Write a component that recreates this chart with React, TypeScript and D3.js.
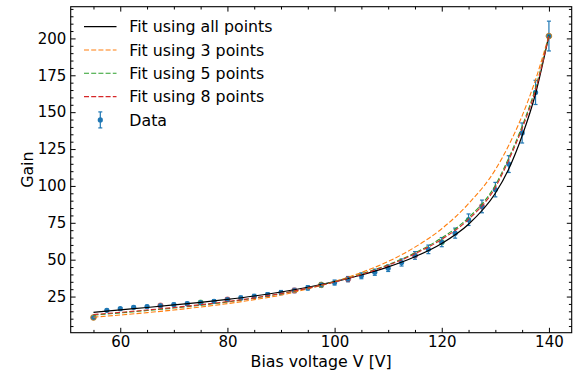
import React, { useEffect, useRef } from "react";
import * as d3 from "d3";

// measured points
const voltages = [
  55, 57.5, 60, 62.5, 65, 67.5, 70, 72.5, 75, 77.5, 80, 82.5, 85, 87.5, 90, 92.5,
  95, 97.5, 100, 102.5, 105, 107.5, 110, 112.5, 115, 117.5, 120, 122.5, 125,
  127.5, 130, 132.5, 135, 137.5, 140,
];
const gains = [
  10.8, 15.7, 16.8, 17.7, 18.2, 18.9, 19.6, 20.2, 20.9, 21.8, 23.0, 24.1, 25.2,
  26.4, 27.7, 29.1, 30.9, 32.9, 34.5, 36.8, 39.1, 41.5, 44.2, 48.1, 52.9, 57.0,
  61.9, 68.0, 77.1, 86.1, 97.5, 114.8, 135.9, 163.4, 201.6,
];
const gainErrors = [
  0.5, 0.8, 0.8, 0.9, 0.9, 0.9, 1.0, 1.0, 1.0, 1.1, 1.2, 1.2, 1.3, 1.3, 1.4,
  1.5, 1.5, 1.6, 1.7, 1.8, 2.0, 2.1, 2.2, 2.4, 2.6, 2.9, 3.1, 3.4, 3.9, 4.3, 4.9,
  5.7, 6.8, 8.2, 10.1,
];

// indices of the points used by each partial fit
const idx3 = [0, 17, 34];
const idx5 = [0, 8, 17, 26, 34];
const idx8 = [0, 5, 10, 15, 19, 24, 29, 34];

// fit curves sampled along V
const fitV = [
  55, 60, 65, 70, 75, 80, 85, 90, 95, 100, 105, 110, 115, 120, 125, 130, 132.5,
  135, 137.5, 140,
];
const fitAll = [
  14.3, 16.0, 17.6, 19.3, 21.1, 23.1, 25.4, 28.1, 31.3, 35.1, 39.6, 45.1, 52.0,
  61.0, 74.0, 95.0, 111.5, 134.0, 162.5, 202.0,
];
const fit3 = [
  11.0, 12.5, 14.1, 15.9, 17.9, 20.2, 22.9, 26.0, 30.2, 35.2, 41.3, 48.8, 58.5,
  71.0, 88.0, 111.0, 127.5, 147.5, 172.0, 202.0,
];
const fit5 = [
  12.4, 13.9, 15.5, 17.2, 19.1, 21.3, 23.9, 27.0, 30.7, 35.0, 40.3, 46.6, 54.6,
  64.8, 78.5, 100.5, 119.0, 140.5, 166.5, 202.0,
];
const fit8 = [
  12.8, 14.3, 15.9, 17.6, 19.5, 21.6, 24.1, 27.1, 30.7, 34.9, 40.0, 46.2, 54.0,
  63.8, 77.3, 99.0, 117.5, 139.0, 165.0, 202.0,
];

const fits = [
  { label: "Fit using all points", values: fitAll, color: "#000000", dash: null as string | null },
  { label: "Fit using 3 points", values: fit3, color: "#ff7f0e", dash: "5,2.2" },
  { label: "Fit using 5 points", values: fit5, color: "#2ca02c", dash: "5,2.2" },
  { label: "Fit using 8 points", values: fit8, color: "#d62728", dash: "5,2.2" },
];

const width = 585;
const height = 371;
const margin = { top: 6.7, right: 13.3, bottom: 38.3, left: 70.7 };
const font = "DejaVu Sans, sans-serif";
const tickFont = "15px";
const labelFont = "15.8px";

export default function App() {
  const svgRef = useRef<SVGSVGElement>(null);

  useEffect(() => {
    if (!svgRef.current) return;
    const svg = d3.select(svgRef.current);
    svg.selectAll("*").remove();

    const innerWidth = width - margin.left - margin.right;
    const innerHeight = height - margin.top - margin.bottom;

    const x = d3.scaleLinear().domain([50.75, 144.25]).range([0, innerWidth]);
    const y = d3.scaleLinear().domain([0.5, 221.5]).range([innerHeight, 0]);

    const g = svg
      .append("g")
      .attr("transform", `translate(${margin.left},${margin.top})`);

    // data with error bars
    const data = voltages.map((v, i) => ({ v, g: gains[i], e: gainErrors[i] }));
    const eb = g.append("g").attr("stroke", "#1f77b4").attr("stroke-width", 1.2);
    data.forEach((d) => {
      const cx = x(d.v);
      eb.append("line")
        .attr("x1", cx).attr("x2", cx)
        .attr("y1", y(d.g - d.e)).attr("y2", y(d.g + d.e));
      [d.g - d.e, d.g + d.e].forEach((yy) => {
        eb.append("line")
          .attr("x1", cx - 2).attr("x2", cx + 2)
          .attr("y1", y(yy)).attr("y2", y(yy));
      });
    });
    g.append("g")
      .selectAll("circle")
      .data(data)
      .enter()
      .append("circle")
      .attr("cx", (d) => x(d.v))
      .attr("cy", (d) => y(d.g))
      .attr("r", 2.6)
      .attr("fill", "#1f77b4");

    // highlight points used by partial fits
    const rings = [
      { idx: idx8, color: "#d62728" },
      { idx: idx5, color: "#2ca02c" },
      { idx: idx3, color: "#ff7f0e" },
    ];
    rings.forEach((r) => {
      g.append("g")
        .selectAll("circle")
        .data(r.idx)
        .enter()
        .append("circle")
        .attr("cx", (i) => x(voltages[i]))
        .attr("cy", (i) => y(gains[i]))
        .attr("r", 2.8)
        .attr("fill", "none")
        .attr("stroke", r.color)
        .attr("stroke-opacity", 0.45)
        .attr("stroke-width", 1);
    });

    // fit curves
    const line = d3
      .line<number>()
      .x((_, i) => x(fitV[i]))
      .y((d) => y(d))
      .curve(d3.curveMonotoneX);
    fits.forEach((f) => {
      g.append("path")
        .attr("d", line(f.values))
        .attr("fill", "none")
        .attr("stroke", f.color)
        .attr("stroke-width", f.dash ? 1.1 : 1.2)
        .attr("stroke-dasharray", f.dash);
    });

    // axes: ticks point inward on all four sides
    const xMajor = [60, 80, 100, 120, 140];
    const xMinor = d3.range(55, 145, 5).filter((v) => !xMajor.includes(v));
    const yMajor = [25, 50, 75, 100, 125, 150, 175, 200];
    const yMinor = d3.range(5, 221, 5).filter((v) => !yMajor.includes(v));

    const styleAxis = (sel: any) => {
      sel.select(".domain").remove();
      sel.selectAll("line").attr("stroke", "#000").attr("stroke-width", 1);
      sel.selectAll("text")
        .attr("fill", "#000")
        .style("font-family", font)
        .style("font-size", tickFont);
    };

    g.append("g")
      .attr("transform", `translate(0,${innerHeight})`)
      .call(d3.axisBottom(x).tickValues(xMajor).tickSize(-4.9).tickPadding(4))
      .call(styleAxis);
    g.append("g")
      .attr("transform", `translate(0,${innerHeight})`)
      .call(d3.axisBottom(x).tickValues(xMinor).tickSize(-2.8).tickFormat(() => ""))
      .call(styleAxis);
    g.append("g")
      .call(d3.axisTop(x).tickValues(xMajor).tickSize(-4.9).tickFormat(() => ""))
      .call(styleAxis);
    g.append("g")
      .call(d3.axisTop(x).tickValues(xMinor).tickSize(-2.8).tickFormat(() => ""))
      .call(styleAxis);

    g.append("g")
      .call(d3.axisLeft(y).tickValues(yMajor).tickSize(-4.9).tickPadding(4.4))
      .call(styleAxis);
    g.append("g")
      .call(d3.axisLeft(y).tickValues(yMinor).tickSize(-2.8).tickFormat(() => ""))
      .call(styleAxis);
    g.append("g")
      .attr("transform", `translate(${innerWidth},0)`)
      .call(d3.axisRight(y).tickValues(yMajor).tickSize(-4.9).tickFormat(() => ""))
      .call(styleAxis);
    g.append("g")
      .attr("transform", `translate(${innerWidth},0)`)
      .call(d3.axisRight(y).tickValues(yMinor).tickSize(-2.8).tickFormat(() => ""))
      .call(styleAxis);

    g.append("rect")
      .attr("width", innerWidth)
      .attr("height", innerHeight)
      .attr("fill", "none")
      .attr("stroke", "#000")
      .attr("stroke-width", 1.1);

    // axis labels
    svg.append("text")
      .attr("x", margin.left + innerWidth / 2)
      .attr("y", 366.5)
      .attr("text-anchor", "middle")
      .style("font-family", font)
      .style("font-size", labelFont)
      .text("Bias voltage V [V]");
    svg.append("text")
      .attr("transform", `translate(33,${margin.top + innerHeight / 2}) rotate(-90)`)
      .attr("text-anchor", "middle")
      .style("font-family", font)
      .style("font-size", labelFont)
      .text("Gain");

    // legend
    const legend = svg.append("g");
    const rowY = (i: number) => 26.7 + i * 23.3;
    fits.forEach((f, i) => {
      legend.append("line")
        .attr("x1", 84).attr("x2", 116.5)
        .attr("y1", rowY(i)).attr("y2", rowY(i))
        .attr("stroke", f.color)
        .attr("stroke-width", f.dash ? 1.1 : 1.2)
        .attr("stroke-dasharray", f.dash);
      legend.append("text")
        .attr("x", 129.3)
        .attr("y", rowY(i))
        .attr("dy", "0.36em")
        .style("font-family", font)
        .style("font-size", labelFont)
        .text(f.label);
    });
    const dy = rowY(4);
    const lg = legend.append("g").attr("stroke", "#1f77b4").attr("stroke-width", 1.2);
    lg.append("line").attr("x1", 100.3).attr("x2", 100.3).attr("y1", dy - 8).attr("y2", dy + 8);
    lg.append("line").attr("x1", 98.3).attr("x2", 102.3).attr("y1", dy - 8).attr("y2", dy - 8);
    lg.append("line").attr("x1", 98.3).attr("x2", 102.3).attr("y1", dy + 8).attr("y2", dy + 8);
    legend.append("circle").attr("cx", 100.3).attr("cy", dy).attr("r", 2.6).attr("fill", "#1f77b4");
    legend.append("text")
      .attr("x", 129.3)
      .attr("y", dy)
      .attr("dy", "0.36em")
      .style("font-family", font)
      .style("font-size", labelFont)
      .text("Data");
  }, []);

  return (
    <div style={{ position: "absolute", left: 0, top: 0 }}>
      <svg ref={svgRef} width={width} height={height} style={{ display: "block", background: "#fff" }} />
    </div>
  );
}
